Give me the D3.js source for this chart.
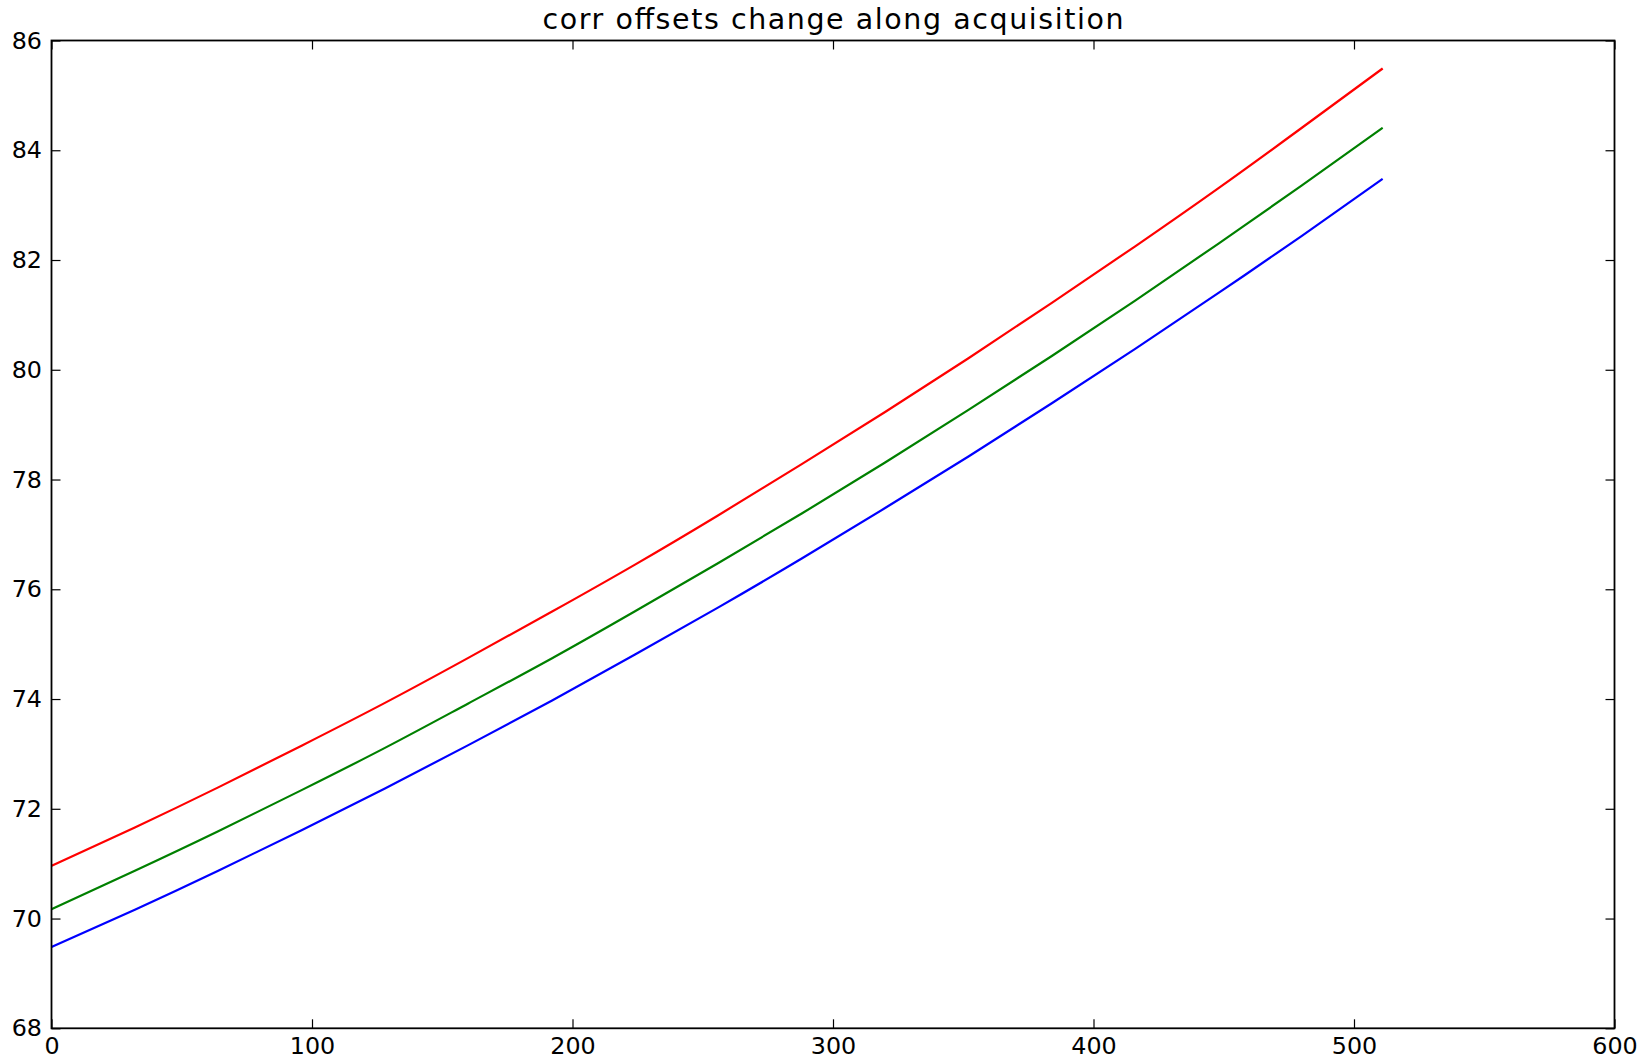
<!DOCTYPE html>
<html>
<head>
<meta charset="utf-8">
<script src="https://cdn.jsdelivr.net/npm/d3@7"></script>
<style>
  body { margin: 0; background: #fff; }
  text { font-family: "DejaVu Sans", sans-serif; fill: #000; }
</style>
</head>
<body>
<svg id="chart" width="1650" height="1061"></svg>
<script>
// sample positions along acquisition
var xs = [0, 32, 64, 96, 128, 160, 192, 224, 256, 288, 320, 352, 384, 416, 448, 480, 511];
var redVals   = [70.96, 71.66, 72.39, 73.15, 73.93, 74.75, 75.59, 76.45, 77.35, 78.28, 79.23, 80.21, 81.22, 82.25, 83.31, 84.41, 85.49];
var greenVals = [70.17, 70.87, 71.59, 72.34, 73.11, 73.92, 74.74, 75.60, 76.48, 77.38, 78.31, 79.27, 80.25, 81.26, 82.30, 83.36, 84.41];
var blueVals  = [69.48, 70.16, 70.87, 71.61, 72.37, 73.16, 73.97, 74.81, 75.67, 76.56, 77.48, 78.42, 79.39, 80.38, 81.40, 82.44, 83.48];
var xTicks = [0, 100, 200, 300, 400, 500, 600];
var yTicks = [68, 70, 72, 74, 76, 78, 80, 82, 84, 86];
var title = "corr offsets change along acquisition";

var margin = {top: 40.5, right: 35.5, bottom: 32.7, left: 51.5};
var W = 1650, H = 1061;
var w = W - margin.left - margin.right;
var h = H - margin.top - margin.bottom;

var svg = d3.select('#chart');
var g = svg.append('g').attr('transform', 'translate(' + margin.left + ',' + margin.top + ')');

var x = d3.scaleLinear().domain([0, 600]).range([0, w]);
var y = d3.scaleLinear().domain([68, 86]).range([h, 0]);

var series = [
  {vals: blueVals, color: '#0000ff'},
  {vals: greenVals, color: '#008000'},
  {vals: redVals, color: '#ff0000'}
];

var line = d3.line()
  .x(function(d) { return x(d[0]); })
  .y(function(d) { return y(d[1]); })
  .curve(d3.curveNatural);

series.forEach(function(s) {
  g.append('path')
    .datum(xs.map(function(v, i) { return [v, s.vals[i]]; }))
    .attr('fill', 'none')
    .attr('stroke', s.color)
    .attr('stroke-width', 2.2);
});
g.selectAll('path').attr('d', line);

// ticks, inward on all four sides (classic matplotlib look)
var tickLen = 9;
var fmt = d3.format('d');
var xBottom = g.append('g').attr('transform', 'translate(0,' + h + ')')
  .call(d3.axisBottom(x).tickValues(xTicks).tickSizeInner(-tickLen).tickSizeOuter(0).tickPadding(9).tickFormat(fmt));
var xTop = g.append('g')
  .call(d3.axisTop(x).tickValues(xTicks).tickSizeInner(-tickLen).tickSizeOuter(0).tickFormat(''));
var yLeft = g.append('g')
  .call(d3.axisLeft(y).tickValues(yTicks).tickSizeInner(-tickLen).tickSizeOuter(0).tickPadding(9.5).tickFormat(fmt));
var yRight = g.append('g').attr('transform', 'translate(' + w + ',0)')
  .call(d3.axisRight(y).tickValues(yTicks).tickSizeInner(-tickLen).tickSizeOuter(0).tickFormat(''));

[xBottom, xTop, yLeft, yRight].forEach(function(a) {
  a.select('.domain').remove();
  a.selectAll('line').attr('stroke', '#000').attr('stroke-width', 1.2);
  a.selectAll('text').style('font-size', '23.8px').attr('font-family', null);
});

// frame
g.append('rect')
  .attr('x', 0).attr('y', 0).attr('width', w).attr('height', h)
  .attr('fill', 'none').attr('stroke', '#000').attr('stroke-width', 1.8);

svg.append('text')
  .attr('x', margin.left + w / 2)
  .attr('y', 28.5)
  .attr('text-anchor', 'middle')
  .attr('textLength', 581)
  .attr('lengthAdjust', 'spacing')
  .style('font-size', '28.5px')
  .text(title);
</script>
</body>
</html>
